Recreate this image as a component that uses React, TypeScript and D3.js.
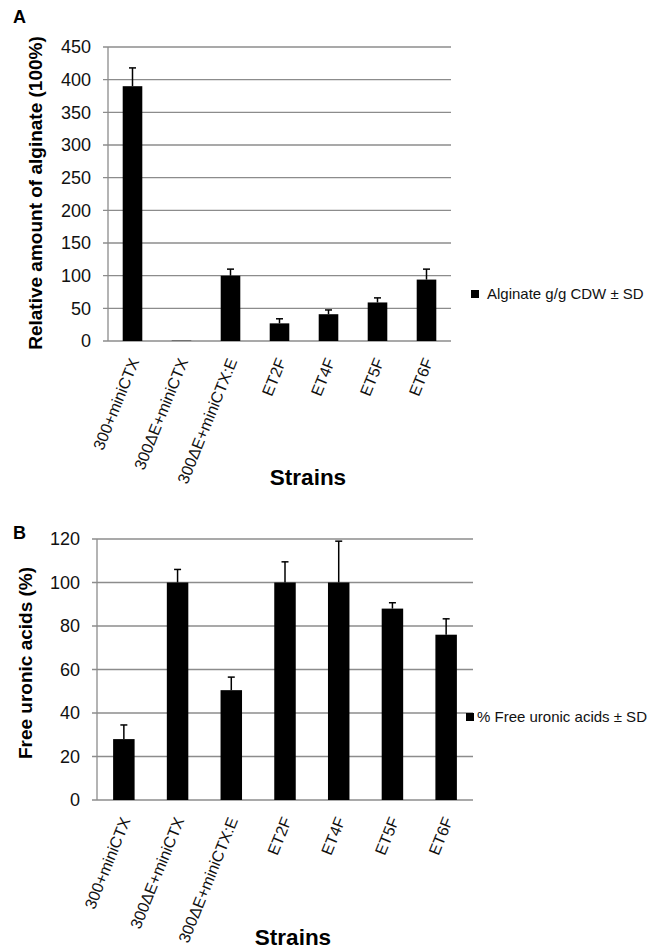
import * as d3 from 'd3';
import React, { useEffect, useRef } from 'react';

// strains (x categories), shared by both panels
const strains = ['300+miniCTX', '300ΔE+miniCTX', '300ΔE+miniCTX:E', 'ET2F', 'ET4F', 'ET5F', 'ET6F'];

// panel A: relative alginate amount
const alginateMean = [390, 0.5, 100, 27, 41, 59, 94];
const alginateSd = [28, 0, 10, 7, 6.5, 7, 16];
const alginateTicks = [0, 50, 100, 150, 200, 250, 300, 350, 400, 450];

// panel B: free uronic acids
const uronicMean = [28, 100, 50.5, 100, 100, 88, 76];
const uronicSd = [6.5, 6, 6, 9.5, 19, 2.7, 7.3];
const uronicTicks = [0, 20, 40, 60, 80, 100, 120];

const FONT = 'Arial, "Liberation Sans", sans-serif';

function drawPanel(svg, opts) {
    const { means, sds, ticks, box, letter, yLabel, legend } = opts;
    const g = svg.append('g');

    const x = d3.scaleBand()
        .domain(strains)
        .range([box.left, box.right])
        .paddingInner(0.6)
        .paddingOuter(0.3);

    const y = d3.scaleLinear()
        .domain([0, d3.max(ticks)])
        .range([box.bottom, box.top]);

    // gridlines + tick marks
    g.append('g')
        .selectAll('line')
        .data(ticks)
        .enter()
        .append('line')
        .attr('x1', box.left - 5)
        .attr('x2', box.right)
        .attr('y1', (d) => y(d))
        .attr('y2', (d) => y(d))
        .attr('stroke', '#8c8c8c')
        .attr('stroke-width', 1.3);

    // y axis line
    g.append('line')
        .attr('x1', box.left)
        .attr('x2', box.left)
        .attr('y1', box.top)
        .attr('y2', box.bottom)
        .attr('stroke', '#8c8c8c')
        .attr('stroke-width', 1.3);

    // y tick labels
    g.append('g')
        .selectAll('text')
        .data(ticks)
        .enter()
        .append('text')
        .attr('x', box.left - 17)
        .attr('y', (d) => y(d))
        .attr('dy', '0.36em')
        .attr('text-anchor', 'end')
        .attr('font-family', FONT)
        .attr('font-size', 18)
        .attr('fill', '#111')
        .text((d) => d);

    // bars
    const bw = x.bandwidth();
    g.append('g')
        .selectAll('rect')
        .data(means)
        .enter()
        .append('rect')
        .attr('x', (d, i) => x(strains[i]))
        .attr('y', (d) => y(d))
        .attr('width', bw)
        .attr('height', (d) => box.bottom - y(d))
        .attr('fill', 'black');

    // error bars (upper only)
    const err = g.append('g').attr('stroke', 'black').attr('stroke-width', 1.5);
    means.forEach((m, i) => {
        if (!sds[i]) return;
        const cx = x(strains[i]) + bw / 2;
        err.append('line')
            .attr('x1', cx).attr('x2', cx)
            .attr('y1', y(m)).attr('y2', y(m + sds[i]));
        err.append('line')
            .attr('x1', cx - 3.5).attr('x2', cx + 3.5)
            .attr('y1', y(m + sds[i])).attr('y2', y(m + sds[i]));
    });

    // category labels, rotated
    g.append('g')
        .selectAll('text')
        .data(strains)
        .enter()
        .append('text')
        .attr('transform', (d) => `translate(${x(d) + bw / 2 + 7},${box.bottom + 20})rotate(-68)`)
        .attr('text-anchor', 'end')
        .attr('font-family', FONT)
        .attr('font-size', 16)
        .attr('fill', '#111')
        .text((d) => d);

    // axis titles
    g.append('text')
        .attr('transform', `translate(${opts.yLabelX},${opts.yLabelY})rotate(-90)`)
        .attr('text-anchor', 'middle')
        .attr('font-family', FONT)
        .attr('font-weight', 'bold')
        .attr('font-size', 19)
        .text(yLabel);

    g.append('text')
        .attr('x', opts.xLabelX)
        .attr('y', opts.xLabelY)
        .attr('text-anchor', 'middle')
        .attr('font-family', FONT)
        .attr('font-weight', 'bold')
        .attr('font-size', 22.5)
        .text('Strains');

    // panel letter
    g.append('text')
        .attr('x', 13)
        .attr('y', letter.y)
        .attr('font-family', FONT)
        .attr('font-weight', 'bold')
        .attr('font-size', 18)
        .text(letter.text);

    // legend
    g.append('rect')
        .attr('x', legend.x)
        .attr('y', legend.y - 4)
        .attr('width', 8)
        .attr('height', 8)
        .attr('fill', 'black');
    g.append('text')
        .attr('x', legend.x + legend.gap)
        .attr('y', legend.y)
        .attr('dy', '0.36em')
        .attr('font-family', FONT)
        .attr('font-size', 15)
        .attr('fill', '#111')
        .text(legend.text);
}

export default function App() {
    const ref = useRef(null);

    useEffect(() => {
        const svg = d3.select(ref.current);
        svg.selectAll('*').remove();

        drawPanel(svg, {
            means: alginateMean,
            sds: alginateSd,
            ticks: alginateTicks,
            box: { left: 108, right: 451, top: 47, bottom: 341 },
            letter: { text: 'A', y: 23 },
            yLabel: 'Relative amount of alginate (100%)',
            yLabelX: 42,
            yLabelY: 193,
            xLabelX: 308,
            xLabelY: 485,
            legend: { x: 471, y: 294, gap: 16, text: 'Alginate g/g CDW ± SD' },
        });

        drawPanel(svg, {
            means: uronicMean,
            sds: uronicSd,
            ticks: uronicTicks,
            box: { left: 97, right: 473, top: 539, bottom: 800 },
            letter: { text: 'B', y: 539 },
            yLabel: 'Free uronic acids (%)',
            yLabelX: 32,
            yLabelY: 663,
            xLabelX: 293,
            xLabelY: 945,
            legend: { x: 466, y: 717, gap: 11, text: '% Free uronic acids ± SD' },
        });
    }, []);

    return (
        <svg
            ref={ref}
            width={664}
            height={952}
            style={{ position: 'absolute', left: 0, top: 0, background: 'white' }}
        />
    );
}
